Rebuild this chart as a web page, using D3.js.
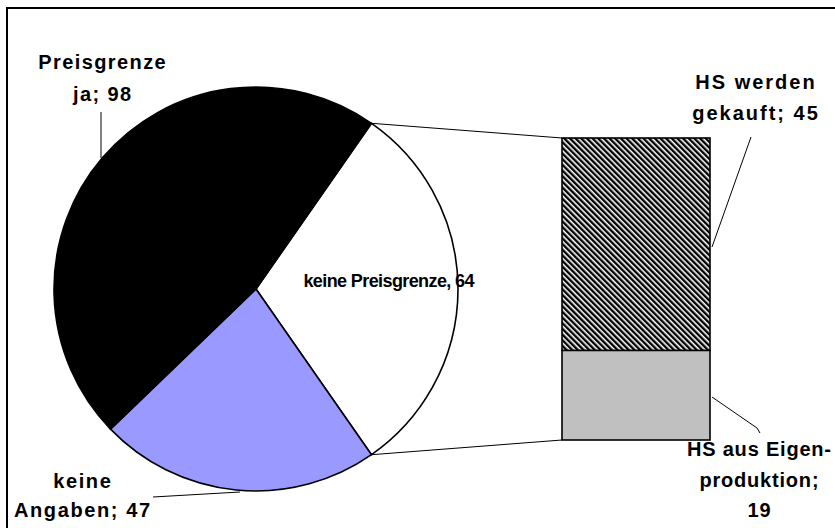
<!DOCTYPE html>
<html>
<head>
<meta charset="utf-8">
<script src="https://cdn.jsdelivr.net/npm/d3@7"></script>
<style>
  body { margin: 0; background: #fff; }
  text { font-family: Arial, "Liberation Sans", sans-serif; font-weight: bold; fill: #000; }
</style>
</head>
<body>
<script>
// Kreis: Reihenfolge im Uhrzeigersinn ab dem ausgekoppelten Segment
const pieNames  = ["keine Preisgrenze", "keine Angaben", "Preisgrenze ja"];
const pieValues = [64, 47, 98];
const pieColors = ["#ffffff", "#9999ff", "#000000"];

// Saeule: von unten nach oben
const barNames  = ["HS aus Eigenproduktion", "HS werden gekauft"];
const barValues = [19, 45];

const W = 835, H = 528;
const svg = d3.select("body").append("svg").attr("width", W).attr("height", H);

const defs = svg.append("defs");
const pat = defs.append("pattern")
  .attr("id", "hatch")
  .attr("patternUnits", "userSpaceOnUse")
  .attr("width", 4).attr("height", 4)
  .attr("patternTransform", "rotate(-45)");
pat.append("rect").attr("width", 4).attr("height", 4).attr("fill", "#fff");
pat.append("line").attr("x1", 1.2).attr("y1", 0).attr("x2", 1.2).attr("y2", 4)
  .attr("stroke", "#000").attr("stroke-width", 2.4);

// Rahmen
svg.append("rect").attr("x", 7).attr("y", 8).attr("width", 900).attr("height", 600)
  .attr("fill", "none").attr("stroke", "#000").attr("stroke-width", 2);

const cx = 256, cy = 289, r = 202;
const total = d3.sum(pieValues);
const splitAngle = pieValues[0] / total * 2 * Math.PI;
const start = Math.PI / 2 - splitAngle / 2;

const pie = d3.pie().sort(null).startAngle(start).endAngle(start + 2 * Math.PI);
const arcs = pie(pieValues);
const arc = d3.arc().innerRadius(0).outerRadius(r);

const g = svg.append("g").attr("transform", `translate(${cx},${cy})`);
g.selectAll("path")
  .data(arcs)
  .enter()
    .append("path")
    .attr("d", arc)
    .attr("fill", (d, i) => pieColors[i])
    .attr("stroke", "#000")
    .attr("stroke-width", 1.6);

// Saeule
const barX = 562, barW = 148;
const y = d3.scaleLinear().domain([0, d3.sum(barValues)]).range([440, 138]);
const tops = d3.cumsum(barValues);
svg.selectAll("rect.bar")
  .data(barValues)
  .enter()
    .append("rect")
    .attr("class", "bar")
    .attr("x", barX)
    .attr("width", barW)
    .attr("y", (d, i) => y(tops[i]))
    .attr("height", d => y(0) - y(d))
    .attr("fill", (d, i) => i === 0 ? "#c0c0c0" : "url(#hatch)")
    .attr("stroke", "#000")
    .attr("stroke-width", 1.6);

// Verbindungslinien
const p1 = d3.pointRadial(arcs[0].startAngle, r);
const p2 = d3.pointRadial(arcs[0].endAngle, r);
svg.append("line").attr("x1", cx + p1[0]).attr("y1", cy + p1[1])
  .attr("x2", barX).attr("y2", y(d3.sum(barValues)))
  .attr("stroke", "#000").attr("stroke-width", 1);
svg.append("line").attr("x1", cx + p2[0]).attr("y1", cy + p2[1])
  .attr("x2", barX).attr("y2", y(0))
  .attr("stroke", "#000").attr("stroke-width", 1);

// Beschriftungen (Excel setzt die Aussenbeschriftungen etwas breiter)
const labels = [
  { lines: ["Preisgrenze", "ja; " + pieValues[2]], x: 102, y: [69, 101], size: 20, ls: 1.4 },
  { lines: [pieNames[0] + ", " + pieValues[0]], x: 389, y: [287], size: 18, ls: -0.6 },
  { lines: ["keine", "Angaben; " + pieValues[1]], x: 82, y: [488, 517], size: 20, ls: 1.6 },
  { lines: ["HS werden", "gekauft; " + barValues[1]], x: 755, y: [89, 120], size: 20, ls: 2.0 },
  { lines: ["HS aus Eigen-", "produktion;", String(barValues[0])], x: 759, y: [456, 487, 517], size: 20, ls: 0.8 }
];
labels.forEach(l => {
  l.lines.forEach((t, i) => {
    svg.append("text").attr("x", l.x + l.ls / 2).attr("y", l.y[i])
      .attr("text-anchor", "middle")
      .style("font-size", l.size + "px")
      .style("letter-spacing", l.ls + "px")
      .text(t);
  });
});

// Fuehrungslinien
const leaders = [
  [[101, 112], [101, 158]],
  [[153, 497], [240, 492]],
  [[751, 137], [712, 247]],
  [[712, 397], [757, 428], [760, 433]]
];
const line = d3.line();
svg.selectAll("path.leader")
  .data(leaders)
  .enter()
    .append("path")
    .attr("class", "leader")
    .attr("d", line)
    .attr("fill", "none")
    .attr("stroke", "#000")
    .attr("stroke-width", 1);
</script>
</body>
</html>
